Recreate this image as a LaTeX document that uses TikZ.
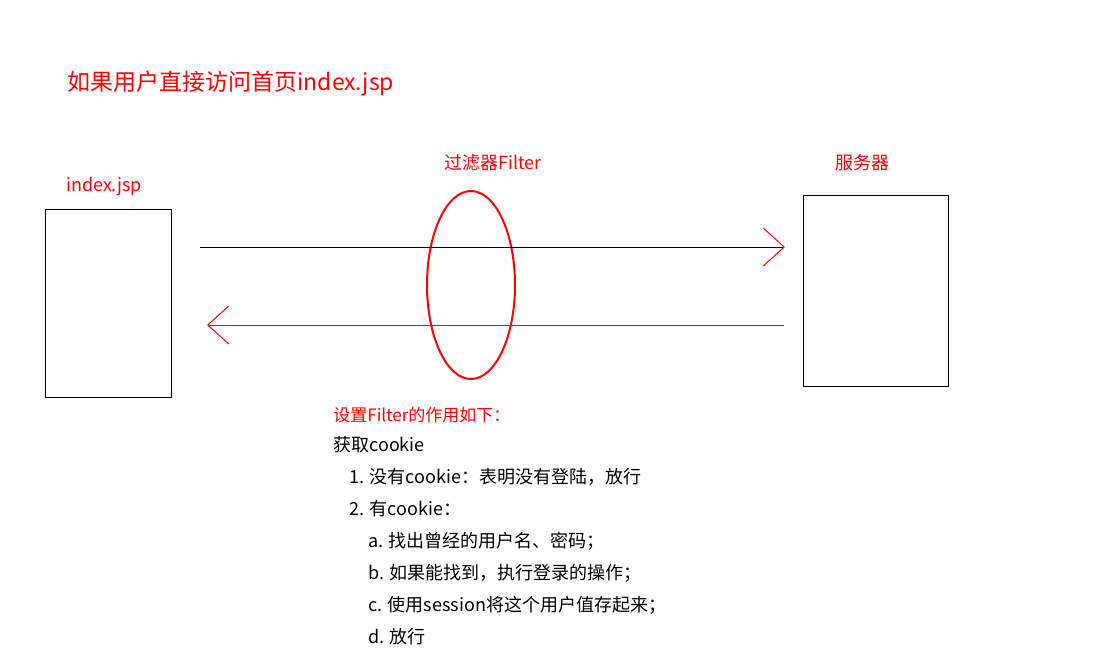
\documentclass[tikz,border=0pt]{standalone}
\usepackage{fontspec}
\setmainfont{Noto Sans CJK SC}
\usetikzlibrary{arrows.meta,shapes.geometric}
\tikzset{
  page/.style={draw=black,line width=0.5pt,minimum width=63pt,minimum height=94pt,inner sep=0pt},
  redlabel/.style={text=red,font=\fontsize{9}{10}\selectfont,inner sep=0pt},
  note/.style={anchor=west,inner sep=0pt,font=\fontsize{9}{10}\selectfont},
  openhead/.style={-{Straight Barb[length=10.5pt,width=19pt,color=red,line width=0.5pt]}}
}
\begin{document}
\begin{tikzpicture}[x=0.5pt,y=-0.5pt]
    \useasboundingbox (0,0) rectangle (1099,671);

                    % title
                    \node [anchor=west,text=red,inner sep=0pt,font=\fontsize{11.5}{12}\selectfont] (title) at (67,84) {如果用户直接访问首页index.jsp};

                    % boxes and filter
                    \node [page] (client) at (108,303) {};
                    \node [page,minimum width=72.5pt,minimum height=95.5pt] (server) at (875.5,290.5) {};
                    \node [ellipse,draw=red,line width=1pt,minimum width=44pt,minimum height=94pt,inner sep=0pt] (filter) at (471,285) {};

                    \node [redlabel] (clientlabel) at (104,187) {index.jsp};
                    \node [redlabel] (filterlabel) at (493,163) {过滤器Filter};
                    \node [redlabel] (serverlabel) at (862,163) {服务器};

                    % request and response
                    \coordinate (reqstart) at (200,247);
                    \coordinate (reqend) at (785,247);
                    \coordinate (resstart) at (784,325);
                    \coordinate (resend) at (207,325);
                    \draw [openhead, black, line width=0.5pt] (reqstart) -- (reqend);
                    \draw [openhead, red, line width=0.5pt] (resstart) -- (resend);

                    % notes
                    \node [note,text=red,font=\fontsize{8.5}{10}\selectfont] (n0) at (333,415) {设置Filter的作用如下：};
                    \node [note] (n1) at (333,445) {获取cookie};
                    \node [note] (n2) at (349,477) {1. 没有cookie：表明没有登陆，放行};
                    \node [note] (n3) at (349,509) {2. 有cookie：};
                    \node [note] (n4) at (368,541) {a. 找出曾经的用户名、密码；};
                    \node [note] (n5) at (368,573) {b. 如果能找到，执行登录的操作；};
                    \node [note] (n6) at (368,605) {c. 使用session将这个用户值存起来；};
                    \node [note] (n7) at (368,637) {d. 放行};

\end{tikzpicture}
\end{document}
